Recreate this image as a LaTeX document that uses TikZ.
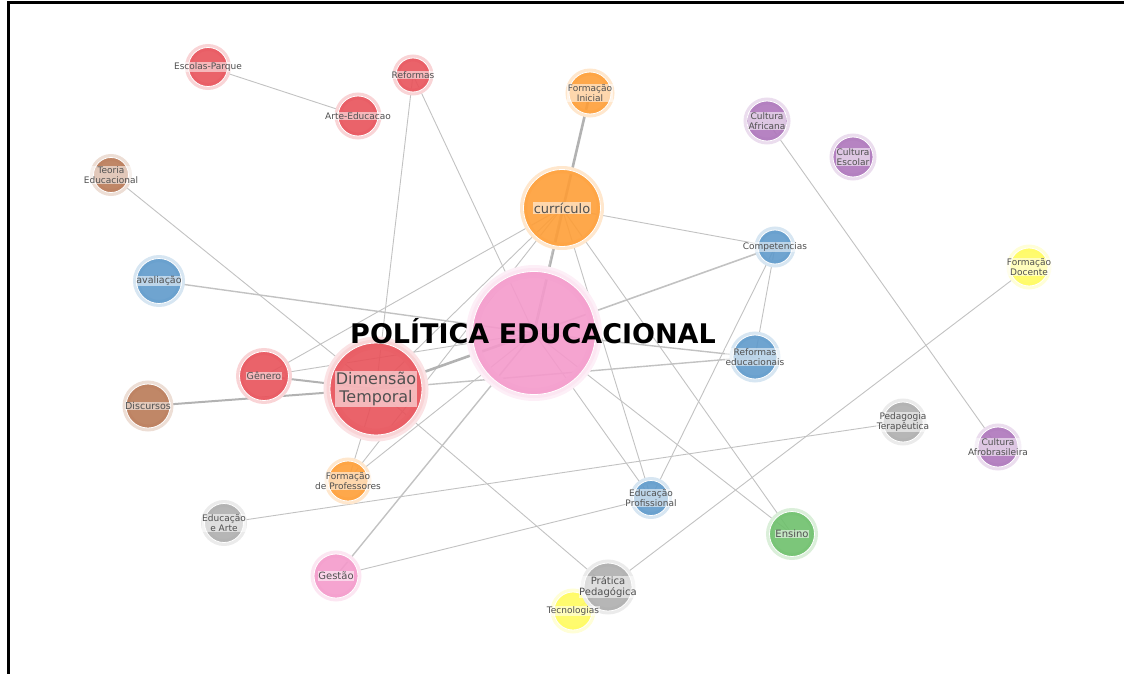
\documentclass[tikz,border=0pt]{standalone}
\usepackage{fontspec}
\setmainfont{DejaVu Sans}
\usetikzlibrary{backgrounds}
\definecolor{cRed}{HTML}{E8525A}
\definecolor{cOra}{HTML}{FE9E37}
\definecolor{cPur}{HTML}{AE76BB}
\definecolor{cBlu}{HTML}{5F9ACB}
\definecolor{cBro}{HTML}{B97A57}
\definecolor{cPin}{HTML}{F49ACB}
\definecolor{cGra}{HTML}{AEAEAE}
\definecolor{cYel}{HTML}{FFFB5E}
\definecolor{cGre}{HTML}{6EC06C}
\definecolor{txt}{HTML}{505050}
\begin{document}
\begin{tikzpicture}[x=1pt,y=-1pt,
  bub/.style 2 args={circle,inner sep=0pt,minimum size=#1,fill=#2,fill opacity=.9,draw=white,line width=.8pt,preaction={draw=#2!25,line width=7pt}},
  bigring/.style={preaction={draw=#1!16,line width=13pt}},
  lbl/.style={text=txt,fill=white,fill opacity=.55,text opacity=1,inner sep=.6pt,align=center,font=\fontsize{9}{10.6}\selectfont},
  link/.style={draw=black!24,line width=.9pt},
  heavy/.style={draw=black!30,line width=2.6pt}]
\useasboundingbox (0,0) rectangle (1124,674);
\draw[line width=3pt] (8,674) -- (8,3) -- (1124,3);
% topics
\node[bub={39}{cRed}] (EscP) at (208,67) {};
\node[bub={34}{cRed}] (Refo) at (413,75) {};
\node[bub={40}{cRed}] (ArtE) at (358,116) {};
\node[bub={42}{cOra}] (FIni) at (590,93) {};
\node[bub={40}{cPur}] (CAfr) at (767,121) {};
\node[bub={40}{cPur}] (CEsc) at (853,157) {};
\node[bub={35}{cBro}] (Teor) at (111,175) {};
\node[bub={77}{cOra}] (Curr) at (562,208) {};
\node[bub={34}{cBlu}] (Comp) at (775,247) {};
\node[bub={38}{cYel}] (FDoc) at (1029,267) {};
\node[bub={45}{cBlu}] (Aval) at (159,281) {};
\node[bigring=cPin,bub={123}{cPin}] (Pol) at (534,333) {};
\node[bub={44}{cBlu}] (RefE) at (755,357) {};
\node[bub={49}{cRed}] (Gene) at (264,376) {};
\node[bigring=cRed,bub={92}{cRed}] (Dime) at (376,389) {};
\node[bub={44}{cBro}] (Disc) at (148,406) {};
\node[bub={40}{cGra}] (PedT) at (903,422) {};
\node[bub={40}{cPur}] (CAfb) at (998,447) {};
\node[bub={40}{cOra}] (FPro) at (348,481) {};
\node[bub={35}{cBlu}] (EdPr) at (651,498) {};
\node[bub={39}{cGra}] (EdAr) at (224,523) {};
\node[bub={45}{cGre}] (Ensi) at (792,534) {};
\node[bub={44}{cPin}] (Gest) at (336,576) {};
\node[bub={38}{cYel}] (Tecn) at (573,611) {};
\node[bub={48}{cGra}] (Prat) at (608,587) {};
% links
\begin{scope}[on background layer]
\draw[link] (EscP.center) -- (ArtE.center);
\draw[link] (Teor.center) -- (Dime.center);
\draw[link] (Refo.center) -- (Dime.center);
\draw[link] (Refo.center) -- (Pol.center);
\draw[heavy] (FIni.center) -- (Pol.center);
\draw[link] (Curr.center) -- (Pol.center);
\draw[link] (Curr.center) -- (Comp.center);
\draw[link] (Curr.center) -- (Gene.center);
\draw[link] (Curr.center) -- (Dime.center);
\draw[link] (Curr.center) -- (FPro.center);
\draw[link] (Curr.center) -- (EdPr.center);
\draw[link] (Curr.center) -- (Ensi.center);
\draw[link,line width=1.4pt] (Aval.center) -- (Pol.center);
\draw[link,line width=1.6pt] (Pol.center) -- (Comp.center);
\draw[link,line width=1.4pt] (Pol.center) -- (RefE.center);
\draw[heavy] (Pol.center) -- (Dime.center);
\draw[link] (Pol.center) -- (Gene.center);
\draw[link] (Pol.center) -- (FPro.center);
\draw[link,line width=1.4pt] (Pol.center) -- (Gest.center);
\draw[link] (Pol.center) -- (EdPr.center);
\draw[link] (Pol.center) -- (Ensi.center);
\draw[link] (Comp.center) -- (RefE.center);
\draw[link] (Comp.center) -- (EdPr.center);
\draw[link,line width=1.4pt] (Dime.center) -- (RefE.center);
\draw[heavy,line width=2pt] (Disc.center) -- (Dime.center);
\draw[heavy,line width=2pt] (Gene.center) -- (Dime.center);
\draw[link] (FPro.center) -- (Dime.center);
\draw[link] (Dime.center) -- (Prat.center);
\draw[link] (Gest.center) -- (EdPr.center);
\draw[link] (EdAr.center) -- (PedT.center);
\draw[link] (Prat.center) -- (FDoc.center);
\draw[link] (Prat.center) -- (Tecn.center);
\draw[link] (CAfr.center) -- (CAfb.center);
\end{scope}
% labels
\node[lbl] (tEscP) at (EscP) {Escolas-Parque};
\node[lbl] (tRefo) at (Refo) {Reformas};
\node[lbl] (tArtE) at (ArtE) {Arte-Educacao};
\node[lbl] (tFIni) at (FIni) {Formação\\Inicial};
\node[lbl] (tCAfr) at (CAfr) {Cultura\\Africana};
\node[lbl] (tCEsc) at (CEsc) {Cultura\\Escolar};
\node[lbl] (tTeor) at (Teor) {Teoria\\Educacional};
\node[lbl,font=\fontsize{13}{15}\selectfont] (tCurr) at (Curr) {currículo};
\node[lbl] (tComp) at (Comp) {Competencias};
\node[lbl] (tFDoc) at (FDoc) {Formação\\Docente};
\node[lbl,font=\fontsize{9.5}{11}\selectfont] (tAval) at (Aval) {avaliação};
\node[lbl] (tRefE) at (RefE) {Reformas\\educacionais};
\node[lbl,font=\fontsize{9.5}{11}\selectfont] (tGene) at (Gene) {Gênero};
\node[lbl,font=\fontsize{16}{18.5}\selectfont] (tDime) at (Dime) {Dimensão\\Temporal};
\node[lbl,font=\fontsize{9.5}{11}\selectfont] (tDisc) at (Disc) {Discursos};
\node[lbl] (tPedT) at (PedT) {Pedagogia\\Terapêutica};
\node[lbl] (tCAfb) at (CAfb) {Cultura\\Afrobrasileira};
\node[lbl] (tFPro) at (FPro) {Formação\\de Professores};
\node[lbl] (tEdPr) at (EdPr) {Educação\\Profissional};
\node[lbl] (tEdAr) at (EdAr) {Educação\\e Arte};
\node[lbl,font=\fontsize{10}{11.5}\selectfont] (tEnsi) at (Ensi) {Ensino};
\node[lbl,font=\fontsize{10}{11.5}\selectfont] (tGest) at (Gest) {Gestão};
\node[lbl,font=\fontsize{10}{11.7}\selectfont] (tPrat) at (Prat) {Prática\\Pedagógica};
\node[lbl] (tTecn) at (Tecn) {Tecnologias};
\node[font=\fontsize{27}{30}\bfseries\selectfont,inner sep=0pt] (tPol) at (533,331) {POLÍTICA EDUCACIONAL};
\end{tikzpicture}
\end{document}
